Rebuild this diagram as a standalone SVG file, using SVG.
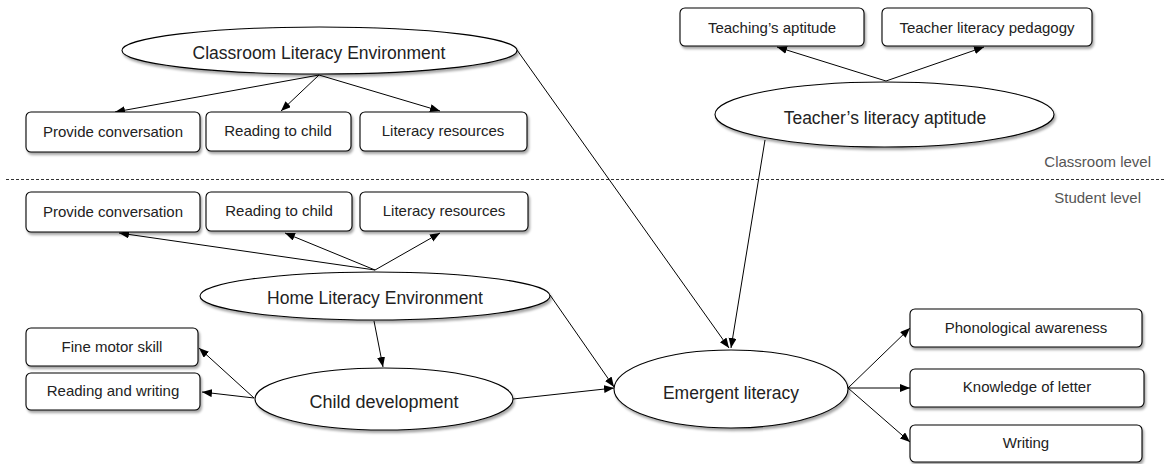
<svg xmlns="http://www.w3.org/2000/svg" width="1166" height="464" viewBox="0 0 1166 464">
<style>
.box{fill:#fff;stroke:#000;stroke-width:1.1;filter:url(#sh)}
.ell{fill:#fff;stroke:#000;stroke-width:1.1;filter:url(#sh)}
.bt{font-family:"Liberation Sans",Arial,sans-serif;font-size:15px;fill:#222;text-anchor:middle}
.et{font-family:"Liberation Sans",Arial,sans-serif;font-size:17.5px;fill:#222;text-anchor:middle}
.lv{font-family:"Liberation Sans",Arial,sans-serif;font-size:15px;fill:#555;text-anchor:end}
.c{stroke:#000;stroke-width:1;fill:none;marker-end:url(#ah)}
</style>
<defs>
<filter id="sh" x="-10%" y="-10%" width="125%" height="140%">
<feDropShadow dx="1.5" dy="2.5" stdDeviation="1.2" flood-color="#000" flood-opacity="0.35"/>
</filter>
<marker id="ah" markerUnits="userSpaceOnUse" markerWidth="11" markerHeight="9" refX="10" refY="4" orient="auto">
<path d="M0,0 L10,4 L0,8 z" fill="#000"/>
</marker>
</defs>
<rect width="1166" height="464" fill="#fff"/>
<line x1="6" y1="179.5" x2="1166" y2="179.5" stroke="#333" stroke-width="1" stroke-dasharray="3,2"/>
<text class="lv" x="1151" y="167">Classroom level</text>
<text class="lv" x="1141" y="203">Student level</text>
<g id="connectors">
<line class="c" x1="319" y1="75" x2="115" y2="112"/>
<line class="c" x1="319" y1="75" x2="281" y2="111"/>
<line class="c" x1="319" y1="75" x2="440" y2="111"/>
<line class="c" x1="517" y1="50" x2="729" y2="348"/>
<line class="c" x1="886" y1="81" x2="777" y2="47"/>
<line class="c" x1="886" y1="81" x2="984" y2="47"/>
<line class="c" x1="765" y1="140" x2="731" y2="348"/>
<line class="c" x1="375" y1="270" x2="119" y2="233"/>
<line class="c" x1="375" y1="270" x2="285" y2="233"/>
<line class="c" x1="375" y1="270" x2="440" y2="233"/>
<line class="c" x1="374" y1="321" x2="383" y2="367"/>
<line class="c" x1="254" y1="398" x2="199" y2="348"/>
<line class="c" x1="254" y1="398" x2="202" y2="392"/>
<line class="c" x1="513" y1="399" x2="614" y2="388"/>
<line class="c" x1="550" y1="295" x2="614" y2="387"/>
<line class="c" x1="848" y1="388" x2="910" y2="328"/>
<line class="c" x1="848" y1="388" x2="910" y2="388"/>
<line class="c" x1="848" y1="388" x2="910" y2="442"/>
</g>
<g id="classroom-env"><ellipse class="ell" cx="319.5" cy="50.5" rx="197.5" ry="23.5"/><text class="et" x="319" y="59">Classroom Literacy Environment</text></g>
<g id="c-conv"><rect class="box" x="26" y="112" width="174" height="40" rx="5"/><text class="bt" x="113" y="137">Provide conversation</text></g>
<g id="c-read"><rect class="box" x="206" y="112" width="145" height="39" rx="5"/><text class="bt" x="278" y="136">Reading to child</text></g>
<g id="c-res"><rect class="box" x="360" y="112" width="167" height="39" rx="5"/><text class="bt" x="443" y="136">Literacy resources</text></g>
<g id="teach-apt"><rect class="box" x="680" y="8" width="184" height="38" rx="5"/><text class="bt" x="772" y="33">Teaching’s aptitude</text></g>
<g id="teach-ped"><rect class="box" x="882" y="8" width="210" height="38" rx="5"/><text class="bt" x="987" y="33">Teacher literacy pedagogy</text></g>
<g id="teacher-lit"><ellipse class="ell" cx="884.5" cy="114.5" rx="169.5" ry="32.5"/><text class="et" x="885" y="124">Teacher’s literacy aptitude</text></g>
<g id="s-conv"><rect class="box" x="26" y="192" width="174" height="40" rx="5"/><text class="bt" x="113" y="217">Provide conversation</text></g>
<g id="s-read"><rect class="box" x="206" y="192" width="146" height="39" rx="5"/><text class="bt" x="279" y="216">Reading to child</text></g>
<g id="s-res"><rect class="box" x="360" y="192" width="168" height="39" rx="5"/><text class="bt" x="444" y="216">Literacy resources</text></g>
<g id="home-env"><ellipse class="ell" cx="375" cy="296" rx="175" ry="24"/><text class="et" x="375" y="304">Home Literacy Environment</text></g>
<g id="fine-motor"><rect class="box" x="26" y="328" width="172" height="38" rx="5"/><text class="bt" x="112" y="352">Fine motor skill</text></g>
<g id="read-write"><rect class="box" x="26" y="373" width="174" height="37" rx="5"/><text class="bt" x="113" y="396">Reading and writing</text></g>
<g id="child-dev"><ellipse class="ell" cx="384" cy="399" rx="129" ry="31"/><text class="et" x="384" y="408" style="font-size:18px">Child development</text></g>
<g id="emergent"><ellipse class="ell" cx="731" cy="389" rx="117" ry="39"/><text class="et" x="731" y="399">Emergent literacy</text></g>
<g id="phon"><rect class="box" x="910" y="309" width="232" height="38" rx="5"/><text class="bt" x="1026" y="333">Phonological awareness</text></g>
<g id="know"><rect class="box" x="910" y="369" width="234" height="38" rx="5"/><text class="bt" x="1027" y="392">Knowledge of letter</text></g>
<g id="writing"><rect class="box" x="910" y="425" width="232" height="37" rx="5"/><text class="bt" x="1026" y="448">Writing</text></g>
</svg>
